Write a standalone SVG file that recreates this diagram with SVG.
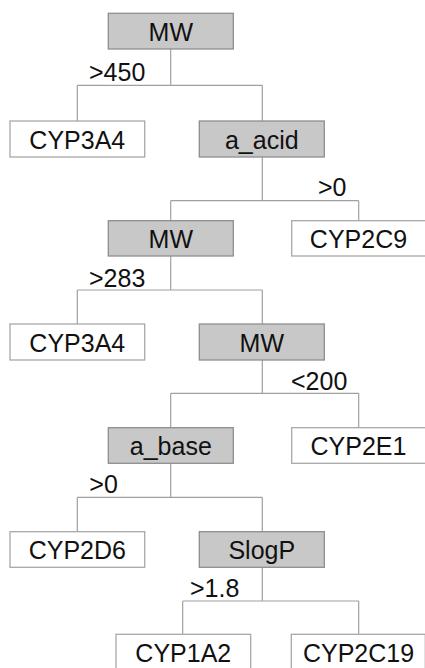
<svg xmlns="http://www.w3.org/2000/svg" width="425" height="668" viewBox="0 0 425 668">
  <style>
    .split rect { fill: #c8c8c8; stroke: #8e8e8e; stroke-width: 1.3; }
    .leaf rect { fill: #ffffff; stroke: #a8a8a8; stroke-width: 1.3; }
    text { font-family: "Liberation Sans", Arial, sans-serif; font-size: 25px; fill: #111111; }
    .node text { text-anchor: middle; }
    #connectors path { fill: none; stroke: #a0a0a0; stroke-width: 1.2; }
  </style>
  <rect width="425" height="668" fill="#ffffff"/>

  <!-- tree edges: parent stem, horizontal bar, child stems -->
  <g id="connectors">
    <path d="M170.7 49 V85.3 M77.3 85.3 H262.3 M77.3 85.3 V121 M262.3 85.3 V121"/>
    <path d="M262.3 157 V200.7 M170.7 200.7 H358.7 M170.7 200.7 V220.7 M358.7 200.7 V220.7"/>
    <path d="M170.7 256 V290 M77.3 290 H262.3 M77.3 290 V324 M262.3 290 V324"/>
    <path d="M262.3 360 V393.3 M170.7 393.3 H358.7 M170.7 393.3 V427.7 M358.7 393.3 V427.7"/>
    <path d="M170.7 463.3 V497.3 M77.3 497.3 H262.3 M77.3 497.3 V531.7 M262.3 497.3 V531.7"/>
    <path d="M262.3 567.3 V601 M182.7 601 H358.7 M182.7 601 V634.3 M358.7 601 V634.3"/>
  </g>

  <!-- edge labels -->
  <g id="edge-labels">
    <text x="89" y="81">&gt;450</text>
    <text x="318" y="196">&gt;0</text>
    <text x="89" y="286.7">&gt;283</text>
    <text x="291" y="390">&lt;200</text>
    <text x="89.3" y="493.3">&gt;0</text>
    <text x="190" y="596.7">&gt;1.8</text>
  </g>

  <g id="n-root" class="node split">
    <rect x="108.3" y="13.3" width="125" height="35.7"/>
    <text x="170.8" y="40.7">MW</text>
  </g>
  <g id="n-cyp3a4-a" class="node leaf">
    <rect x="10" y="121" width="134.7" height="36"/>
    <text x="77.3" y="148.7">CYP3A4</text>
  </g>
  <g id="n-a-acid" class="node split">
    <rect x="199.3" y="121" width="125" height="36"/>
    <text x="261.8" y="148.7">a_acid</text>
  </g>
  <g id="n-mw-2" class="node split">
    <rect x="108.3" y="220.7" width="125" height="35.3"/>
    <text x="170.8" y="248.2">MW</text>
  </g>
  <g id="n-cyp2c9" class="node leaf">
    <rect x="291.7" y="220.7" width="134" height="35.3"/>
    <text x="358.5" y="248.2">CYP2C9</text>
  </g>
  <g id="n-cyp3a4-b" class="node leaf">
    <rect x="10" y="324" width="134.7" height="36"/>
    <text x="77.3" y="351.7">CYP3A4</text>
  </g>
  <g id="n-mw-3" class="node split">
    <rect x="199.3" y="324" width="125" height="36"/>
    <text x="261.8" y="351.7">MW</text>
  </g>
  <g id="n-a-base" class="node split">
    <rect x="108.3" y="427.7" width="125" height="35.6"/>
    <text x="170.8" y="455.2">a_base</text>
  </g>
  <g id="n-cyp2e1" class="node leaf">
    <rect x="291.7" y="427.7" width="134" height="35.6"/>
    <text x="358.5" y="455.2">CYP2E1</text>
  </g>
  <g id="n-cyp2d6" class="node leaf">
    <rect x="10" y="531.7" width="134.7" height="35.6"/>
    <text x="77.3" y="559.2">CYP2D6</text>
  </g>
  <g id="n-slogp" class="node split">
    <rect x="199.3" y="531.7" width="125" height="35.6"/>
    <text x="261.8" y="559.2">SlogP</text>
  </g>
  <g id="n-cyp1a2" class="node leaf">
    <rect x="116" y="634.3" width="134.7" height="36"/>
    <text x="183.3" y="661.7">CYP1A2</text>
  </g>
  <g id="n-cyp2c19" class="node leaf">
    <rect x="291.3" y="634.3" width="134" height="36"/>
    <text x="358.5" y="661.7">CYP2C19</text>
  </g>
</svg>
